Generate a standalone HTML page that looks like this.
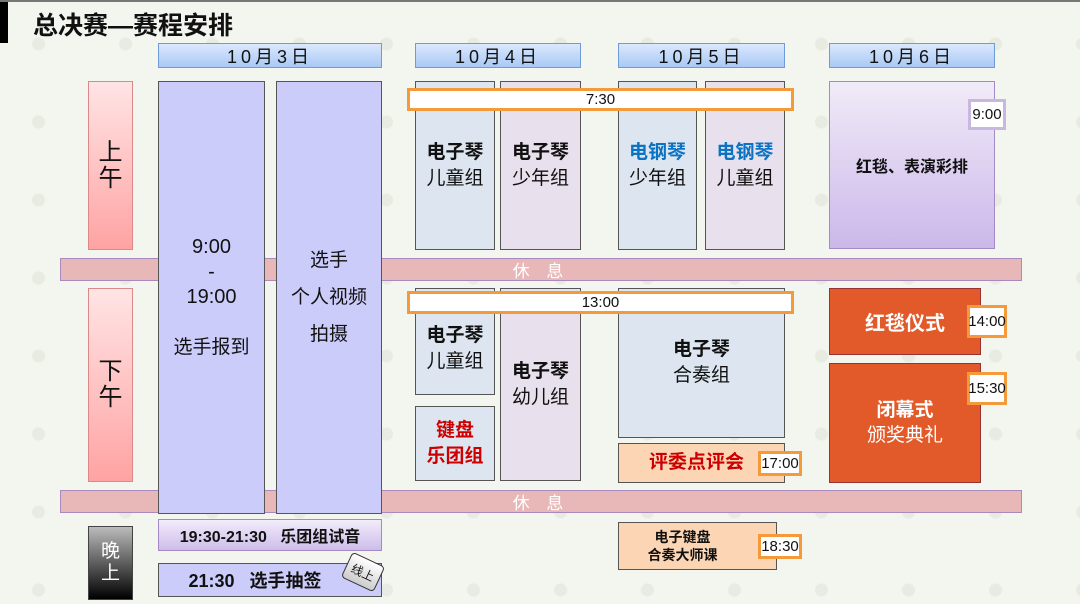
<!DOCTYPE html>
<html><head><meta charset="utf-8"><style>
*{margin:0;padding:0;box-sizing:border-box}
body{width:1080px;height:604px;position:relative;overflow:hidden;background:#f3f5ef;
background-image:radial-gradient(circle,#e8ebe2 6px,transparent 7px);background-size:87px 78px;background-position:-5px 5px;
font-family:"Liberation Sans","Noto Sans CJK SC",sans-serif;color:#111}
div{position:absolute}
.c{display:flex;align-items:center;justify-content:center;text-align:center;flex-direction:column}
.d{background:linear-gradient(#dbe8fd,#a9c9f5);border:1px solid #6f9bd6;font-size:18px;letter-spacing:4px;height:25px;top:43px}
.b{border:1.5px solid #555;font-size:19px;line-height:26px}
.t{background:#fff;border:3px solid #f59a3a}
.s{background:#fff;border:3px solid #f59a3a;font-size:15px}
.r{background:#e8b8b8;border:1px solid #a98abf;color:#fff;font-size:17px;letter-spacing:6px;height:23px;left:60px;width:962px}
.bo{font-weight:bold}
</style></head><body>
<div style="left:0;top:0;width:1080px;height:2px;background:#777"></div>
<div style="left:0;top:2px;width:8px;height:41px;background:#000"></div>
<div style="left:33px;top:6px;font-size:25px;font-weight:bold">总决赛—赛程安排</div>

<div class="d c" style="left:158px;width:224px">10月3日</div>
<div class="d c" style="left:415px;width:166px">10月4日</div>
<div class="d c" style="left:618px;width:167px">10月5日</div>
<div class="d c" style="left:829px;width:166px">10月6日</div>

<div class="r c" style="top:258px">休 息</div>
<div class="r c" style="top:490px">休 息</div>

<div class="c" style="left:88px;top:81px;width:45px;height:169px;background:linear-gradient(#ffe4e4,#ffa3a3);border:1.5px solid #d88;font-size:24px;line-height:26px">上<br>午</div>
<div class="c" style="left:88px;top:288px;width:45px;height:194px;background:linear-gradient(#ffe4e4,#ffa3a3);border:1.5px solid #d88;font-size:24px;line-height:26px">下<br>午</div>
<div class="c" style="left:88px;top:526px;width:45px;height:74px;background:linear-gradient(#bbb,#000);border:1.5px solid #444;color:#fff;font-size:19px;line-height:22px">晚<br>上</div>

<div class="b c" style="left:158px;top:81px;width:107px;height:433px;background:#ccccfb;font-size:20px;line-height:25px">9:00<br>-<br>19:00<br><br><span style="font-size:19px">选手报到</span></div>
<div class="b c" style="left:276px;top:81px;width:106px;height:433px;background:#ccccfb;line-height:37px">选手<br>个人视频<br>拍摄</div>

<div class="b c" style="left:415px;top:81px;width:80px;height:169px;background:#dde6f0"><b>电子琴</b>儿童组</div>
<div class="b c" style="left:500px;top:81px;width:81px;height:169px;background:#e8e0ec"><b>电子琴</b>少年组</div>
<div class="b c" style="left:618px;top:81px;width:79px;height:169px;background:#dde6f0"><b style="color:#0b73c2">电钢琴</b>少年组</div>
<div class="b c" style="left:705px;top:81px;width:80px;height:169px;background:#e8e0ec"><b style="color:#0b73c2">电钢琴</b>儿童组</div>
<div class="c bo" style="left:829px;top:81px;width:166px;height:168px;background:linear-gradient(#f1ebf8,#cbb8ea);border:1.5px solid #a58ac8;font-size:16px">红毯、表演彩排</div>
<div class="c" style="left:968px;top:99px;width:38px;height:31px;background:#fff;border:3px solid #c8b8e0;font-size:15px">9:00</div>
<div class="t c" style="left:407px;top:88px;width:387px;height:23px;font-size:15px">7:30</div>

<div class="b c" style="left:415px;top:288px;width:80px;height:107px;background:#dde6f0;padding-top:14px"><b>电子琴</b>儿童组</div>
<div class="b c bo" style="left:415px;top:406px;width:80px;height:75px;background:#dde6f0;color:#c00">键盘<br>乐团组</div>
<div class="b c" style="left:500px;top:288px;width:81px;height:193px;background:#e8e0ec"><b>电子琴</b>幼儿组</div>
<div class="b c" style="left:618px;top:288px;width:167px;height:150px;background:#dde6f0"><b>电子琴</b>合奏组</div>
<div class="b c bo" style="left:618px;top:443px;width:167px;height:40px;background:#fcd5b4;color:#c00;font-size:19px;align-items:flex-start;padding-left:30px">评委点评会</div>
<div class="s c" style="left:758px;top:451px;width:44px;height:25px">17:00</div>
<div class="t c" style="left:407px;top:291px;width:387px;height:23px;font-size:15px">13:00</div>

<div class="c bo" style="left:829px;top:288px;width:152px;height:67px;background:#e35a2a;border:1.5px solid #933;color:#fff;font-size:20px">红毯仪式</div>
<div class="s c" style="left:967px;top:305px;width:40px;height:33px">14:00</div>
<div class="c" style="left:829px;top:363px;width:152px;height:120px;background:#e35a2a;border:1.5px solid #933;color:#fff;font-size:19px;line-height:25px"><b>闭幕式</b>颁奖典礼</div>
<div class="s c" style="left:967px;top:372px;width:40px;height:33px">15:30</div>

<div class="c bo" style="left:158px;top:519px;width:224px;height:32px;background:linear-gradient(#f3ecfb,#cdbdea);border:1.5px solid #a58ac8;font-size:16px;white-space:pre">19:30-21:30   乐团组试音</div>
<div class="c bo" style="left:158px;top:563px;width:224px;height:34px;background:#ccccfb;border:1.5px solid #555;font-size:18px;white-space:pre;padding-right:30px">21:30   选手抽签</div>
<div class="c" style="left:345px;top:558px;width:36px;height:28px;background:linear-gradient(#fff,#ccc);border:1.5px solid #333;border-radius:4px;font-size:12px;transform:rotate(25deg)">线上</div>

<div class="b c bo" style="left:618px;top:522px;width:159px;height:48px;background:#fcd5b4;font-size:14px;line-height:18px;padding-right:30px">电子键盘<br>合奏大师课</div>
<div class="s c" style="left:758px;top:534px;width:44px;height:25px">18:30</div>
</body></html>
